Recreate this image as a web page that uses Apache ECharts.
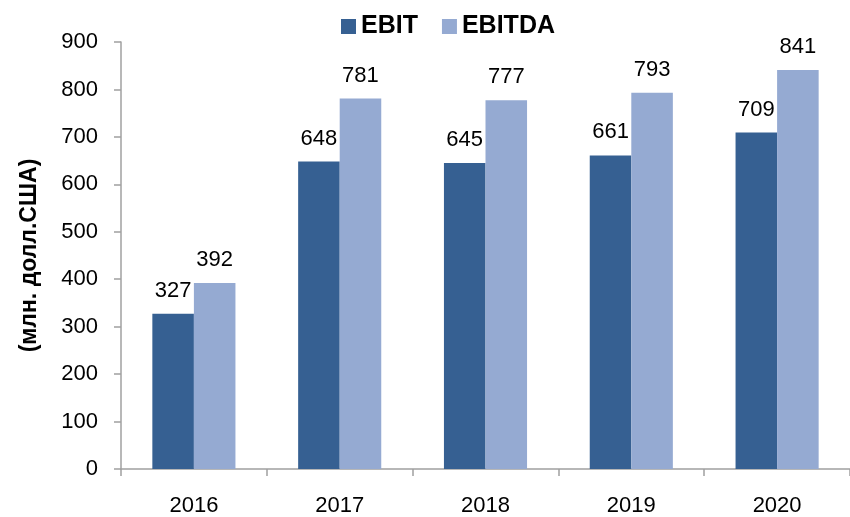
<!DOCTYPE html>
<html>
<head>
<meta charset="utf-8">
<script src="https://cdn.jsdelivr.net/npm/echarts@6/dist/echarts.min.js"></script>
<style>
  html, body { margin: 0; padding: 0; background: #fff; }
  #main { width: 850px; height: 517px; }
</style>
</head>
<body>
<div id="main"></div>
<script>
var years = ['2016', '2017', '2018', '2019', '2020'];
var ebit = [327, 648, 645, 661, 709];
var ebitda = [392, 781, 777, 793, 841];
var yTicks = [0, 100, 200, 300, 400, 500, 600, 700, 800, 900];

var chart = echarts.init(document.getElementById('main'));

var labelStyle = {
  show: true,
  position: 'top',
  distance: 12,
  color: '#000',
  fontSize: 22,
  fontFamily: 'Liberation Sans, Arial, sans-serif'
};

var option = {
  animation: false,
  textStyle: { fontFamily: 'Liberation Sans, Arial, sans-serif' },
  legend: {
    top: 9,
    left: 336,
    itemWidth: 15,
    itemHeight: 15,
    itemGap: 24,
    icon: 'rect',
    textStyle: { fontSize: 25, fontWeight: 'bold', color: '#000' },
    data: ['EBIT', 'EBITDA']
  },
  grid: {
    left: 121,
    right: -4,
    top: 42,
    bottom: 48
  },
  xAxis: {
    type: 'category',
    data: years,
    axisLine: { lineStyle: { color: '#a0a0a0', width: 1.5 } },
    axisTick: { show: true, inside: false, length: 7, lineStyle: { color: '#a0a0a0', width: 1.5 } },
    axisLabel: { color: '#000', fontSize: 22, margin: 26 }
  },
  yAxis: {
    type: 'value',
    min: yTicks[0],
    max: yTicks[yTicks.length - 1],
    interval: 100,
    name: '(млн. долл.США)',
    nameLocation: 'middle',
    nameGap: 80,
    nameRotate: 90,
    nameTextStyle: { fontSize: 23, fontWeight: 'bold', color: '#000' },
    axisLine: { show: true, lineStyle: { color: '#a0a0a0', width: 1.5 } },
    axisTick: { show: true, length: 7, lineStyle: { color: '#a0a0a0', width: 1.5 } },
    splitLine: { show: false },
    axisLabel: { color: '#000', fontSize: 22, margin: 23 }
  },
  series: [
    {
      name: 'EBIT',
      type: 'bar',
      data: ebit,
      barGap: '0%',
      barCategoryGap: '43%',
      itemStyle: { color: '#366092' },
      label: labelStyle
    },
    {
      name: 'EBITDA',
      type: 'bar',
      data: ebitda,
      barGap: '0%',
      barCategoryGap: '43%',
      itemStyle: { color: '#95aad2' },
      label: labelStyle
    }
  ]
};

chart.setOption(option);
</script>
</body>
</html>
